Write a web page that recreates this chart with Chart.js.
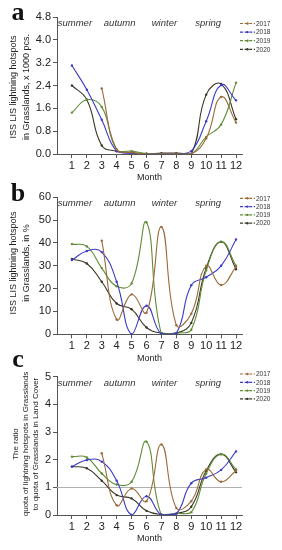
<!DOCTYPE html>
<html><head><meta charset="utf-8">
<script src="https://cdn.jsdelivr.net/npm/chart.js@4.4.0/dist/chart.umd.min.js"></script>
<style>
html,body{margin:0;padding:0;background:#fff;width:282px;height:550px;overflow:hidden}
.p{position:absolute;left:0;width:282px}
canvas{display:block}
</style></head><body>
<div class="p" style="top:0;height:190px"><canvas id="ca" width="282" height="190"></canvas></div>
<div class="p" style="top:180px;height:190px"><canvas id="cb" width="282" height="190"></canvas></div>
<div class="p" style="top:345px;height:205px"><canvas id="cc" width="282" height="205"></canvas></div>
<script>
// ---------- data ----------
const months = [1,2,3,4,5,6,7,8,9,10,11,12];
const monthLabels = ['1','2','3','4','5','6','7','8','9','10','11','12'];
const years = ['2017','2018','2019','2020'];
const seasonNames = ['summer','autumn','winter','spring'];

// panel a: hotspots in Grasslands, x 1000 pcs.
const count2017 = [null,null,2.3,0.15,0.05,0,0,0,0,0.55,2.0,1.1];
const count2018 = [3.1,2.25,1.2,0.1,0.02,0,0,0,0.1,1.15,2.42,1.88];
const count2019 = [1.45,1.9,1.65,0.15,0.1,0.02,0,0,0,0.6,1.03,2.5];
const count2020 = [2.4,1.9,0.3,0.1,0.05,0,0.03,0.03,0,2.08,2.45,1.22];
const yTicksA = ['0.0','0.8','1.6','2.4','3.2','4.0','4.8'];

// panel b: hotspots in Grasslands, in %
const pct2017 = [null,null,41,6.5,17.5,9.5,47,4,9,30,21.6,29.5];
const pct2018 = [32.5,36.5,36,23,0,12.5,0,0.5,21.5,25,30,41.5];
const pct2019 = [39.5,38.5,29,21,22.3,49,0,0.5,2,28,40.6,30];
const pct2020 = [33,31,23,13.5,11,3,0.5,0.5,5,29,40.5,28.5];
const yTicksB = ['0','10','20','30','40','50','60'];

// panel c: ratio of quotas
const ratio2017 = [null,null,2.23,0.35,0.96,0.5,2.55,0.25,0.5,1.65,1.2,1.6];
const ratio2018 = [1.75,1.99,1.93,1.24,0,0.68,0,0.05,1.15,1.35,1.63,2.3];
const ratio2019 = [2.11,2.08,1.5,1.1,1.2,2.65,0,0.05,0.1,1.5,2.2,1.65];
const ratio2020 = [1.75,1.69,1.24,0.72,0.6,0.15,0.02,0.05,0.3,1.6,2.2,1.55];
const yTicksC = ['0','1','2','3','4','5'];
const ratioReference = 1;

// ---------- styling ----------
const colors = ['#9a6a38','#3b3bc8','#5f8c34','#3a3626'];
const FONT = '"Liberation Sans", Arial, sans-serif';

function makePanel(id, cfg){
  const series = cfg.series;
  const datasets = years.map((y,i)=>({
    label: y,
    data: months.map((m,k)=>({x:m, y:series[i][k]})),
    borderColor: colors[i],
    backgroundColor: colors[i],
    borderWidth: 1.1,
    pointRadius: 1.2,
    pointHoverRadius: 1.2,
    pointBorderWidth: 0,
    tension: 0.45,
    spanGaps: false,
    fill: false
  }));
  const tickVals = cfg.yTicks.map(parseFloat);
  const deco = {
    id: 'deco'+id,
    beforeDatasetsDraw(chart){
      if (cfg.refLine == null) return;
      const {ctx, chartArea:a, scales:{y}} = chart;
      const py = Math.round(y.getPixelForValue(cfg.refLine))+0.5;
      ctx.save(); ctx.strokeStyle='#b0b0b0'; ctx.lineWidth=1;
      ctx.beginPath(); ctx.moveTo(a.left,py); ctx.lineTo(a.right,py); ctx.stroke(); ctx.restore();
    },
    afterDraw(chart){
      const {ctx, chartArea:a, scales:{x}} = chart;
      ctx.save();
      // seasons
      ctx.fillStyle='#333'; ctx.font='italic 9.5px '+FONT; ctx.textAlign='center'; ctx.textBaseline='middle';
      const sx=[1.2,4.2,7.2,10.13];
      seasonNames.forEach((s,i)=>ctx.fillText(s, x.getPixelForValue(sx[i]), a.top+cfg.seasonDy));
      // legend
      ctx.font='6.5px '+FONT; ctx.textAlign='left';
      years.forEach((yr,i)=>{
        const ly = cfg.legendTop + i*cfg.legendStep;
        ctx.strokeStyle=colors[i]; ctx.lineWidth=1.2; ctx.setLineDash([3,1.6]);
        ctx.beginPath(); ctx.moveTo(240,ly); ctx.lineTo(255,ly); ctx.stroke();
        ctx.setLineDash([]);
        ctx.fillStyle=colors[i]; ctx.beginPath(); ctx.arc(247.5,ly,1.2,0,Math.PI*2); ctx.fill();
        ctx.fillStyle='#333'; ctx.fillText(yr, 256, ly+0.5);
      });
      // x title
      ctx.fillStyle='#222'; ctx.font='9px '+FONT; ctx.textAlign='center';
      ctx.fillText('Month', (a.left+a.right)/2, cfg.monthY);
      // y title
      ctx.font=cfg.titleFont+'px '+FONT;
      cfg.titleLines.forEach((t,i)=>{
        ctx.save(); ctx.translate(cfg.titleX[i], cfg.titleCy); ctx.rotate(-Math.PI/2);
        ctx.fillText(t,0,0); ctx.restore();
      });
      // panel letter
      ctx.font='bold 26px "Liberation Serif", "DejaVu Serif", serif'; ctx.textAlign='center'; ctx.textBaseline='alphabetic';
      ctx.fillStyle='#111';
      ctx.fillText(cfg.letter, 18, cfg.letterY);
      ctx.restore();
    }
  };
  return new Chart(document.getElementById(id), {
    type:'line',
    data:{datasets},
    plugins:[deco],
    options:{
      responsive:false, animation:false, devicePixelRatio:1,
      layout:{padding:{top:cfg.top,right:40,left:0,bottom:0}},
      plugins:{legend:{display:false}, tooltip:{enabled:false}},
      scales:{
        x:{type:'linear', min:0, max:12.4,
          afterBuildTicks:s=>{s.ticks=months.map(v=>({value:v}));},
          ticks:{callback:v=>monthLabels[months.indexOf(v)], font:{size:11,family:FONT}, color:'#222', padding:1, maxRotation:0, autoSkip:false},
          grid:{drawOnChartArea:false, tickLength:4, color:'#555'},
          border:{color:'#555', width:1},
          afterFit:s=>{s.height=cfg.xh;}
        },
        y:{type:'linear', min:tickVals[0], max:tickVals[tickVals.length-1],
          afterBuildTicks:s=>{s.ticks=tickVals.map(v=>({value:v}));},
          ticks:{callback:(v)=>cfg.yTicks[tickVals.indexOf(v)], font:{size:11,family:FONT}, color:'#222', padding:2},
          grid:{drawOnChartArea:false, tickLength:4, color:'#555'},
          border:{color:'#555', width:1},
          afterFit:s=>{s.width=57;}
        }
      }
    }
  });
}

makePanel('ca',{series:[count2017,count2018,count2019,count2020], yTicks:yTicksA, top:17, xh:36,
  seasonDy:6, legendTop:23.5, legendStep:8.6, monthY:178, titleFont:9,
  titleLines:['ISS LIS lightning hotspots','in Grasslands, x 1000 pcs.'], titleX:[14,27], titleCy:87, letter:'a', letterY:20});
makePanel('cb',{series:[pct2017,pct2018,pct2019,pct2020], yTicks:yTicksB, top:17.3, xh:35.7,
  seasonDy:6, legendTop:18.3, legendStep:8.3, monthY:179, titleFont:9,
  titleLines:['ISS LIS lightning hotspots','in Grasslands, in %'], titleX:[14,27], titleCy:83, letter:'b', letterY:21});
makePanel('cc',{series:[ratio2017,ratio2018,ratio2019,ratio2020], yTicks:yTicksC, top:31.7, xh:35, refLine:ratioReference,
  seasonDy:6.5, legendTop:29, legendStep:8.3, monthY:194, titleFont:8,
  titleLines:['The ratio','quota of lightning hotspots in Grasslands','to quota of Grasslands in Land Cover'], titleX:[16,26,36], titleCy:99, letter:'c', letterY:22});
</script>
</body></html>
